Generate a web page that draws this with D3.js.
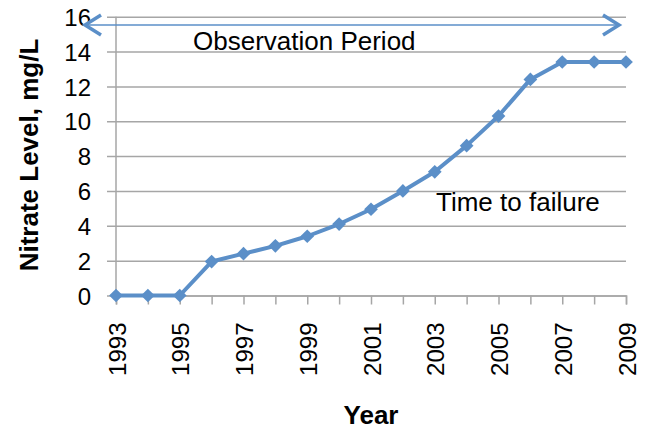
<!DOCTYPE html>
<html>
<head>
<meta charset="utf-8">
<script src="https://cdn.jsdelivr.net/npm/d3@7"></script>
<style>
  html, body { margin: 0; padding: 0; background: #fff; }
  svg text { font-family: "Liberation Sans", Arial, sans-serif; fill: #000; }
</style>
</head>
<body>
<svg id="chart" width="652" height="430"></svg>
<script>
// Nitrate readings by year
const years = [1993, 1994, 1995, 1996, 1997, 1998, 1999, 2000, 2001,
               2002, 2003, 2004, 2005, 2006, 2007, 2008, 2009];
const nitrate = [0, 0, 0, 1.95, 2.4, 2.85, 3.4, 4.1, 4.95,
                 6.0, 7.1, 8.6, 10.3, 12.4, 13.4, 13.4, 13.4];
const yTicks = [0, 2, 4, 6, 8, 10, 12, 14, 16];
const xLabelYears = [1993, 1995, 1997, 1999, 2001, 2003, 2005, 2007, 2009];
const annotations = ["Observation Period", "Time to failure"];

const svg = d3.select("#chart");
const blue = "#5B8FC8";
const grid = "#a6a6a6";
const font = "Liberation Sans, Arial, sans-serif";

const x = d3.scaleLinear().domain([1993, 2009]).range([116, 626]);
const y = d3.scaleLinear().domain([0, 16]).range([295.5, 16.7]);

// horizontal gridlines, extended left past the axis as tick marks
const gy = svg.append("g").attr("transform", "translate(626,0)");
gy.call(d3.axisLeft(y).tickValues(yTicks).tickSize(626 - 107).tickFormat(""));
gy.select(".domain").remove();
gy.selectAll(".tick line").attr("stroke", grid).attr("stroke-width", 1.5);

// y tick labels
const gyl = svg.append("g").attr("transform", "translate(107,0)");
gyl.call(d3.axisLeft(y).tickValues(yTicks).tickSize(0).tickPadding(16).tickFormat(d3.format("d")));
gyl.select(".domain").remove();
gyl.selectAll(".tick text").attr("font-size", 24).attr("font-family", font).attr("dy", "0.36em");

// vertical axis line
svg.append("line").attr("x1", x(1993)).attr("x2", x(1993))
  .attr("y1", y(16)).attr("y2", y(0)).attr("stroke", grid).attr("stroke-width", 1.5);

// x axis with a tick at every year
const gx = svg.append("g").attr("transform", `translate(0,${y(0)})`);
gx.call(d3.axisBottom(x).tickValues(years).tickSize(9).tickFormat(""));
gx.select(".domain").attr("stroke", grid).attr("stroke-width", 1.5);
gx.selectAll(".tick line").attr("stroke", grid).attr("stroke-width", 1.5);

// rotated year labels on odd years
svg.append("g").selectAll("text").data(xLabelYears).join("text")
  .attr("transform", d => `translate(${x(d) + 9.5},${y(0) + 27}) rotate(-90)`)
  .attr("text-anchor", "end")
  .attr("font-size", 24)
  .text(d => d);

// axis titles
svg.append("text").attr("x", 371).attr("y", 424).attr("text-anchor", "middle")
  .attr("font-size", 26).attr("font-weight", "bold").text("Year");
svg.append("text").attr("transform", `translate(37.5,155) rotate(-90)`)
  .attr("text-anchor", "middle").attr("font-size", 26).attr("font-weight", "bold")
  .text("Nitrate Level, mg/L");

// series line
const line = d3.line().x((d, i) => x(years[i])).y(d => y(d));
svg.append("path").datum(nitrate).attr("d", line)
  .attr("fill", "none").attr("stroke", blue).attr("stroke-width", 4)
  .attr("stroke-linejoin", "round");

// diamond markers
const diamond = d3.symbol().type(d3.symbolDiamond2).size(120);
svg.append("g").selectAll("path").data(nitrate).join("path")
  .attr("transform", (d, i) => `translate(${x(years[i])},${y(d)})`)
  .attr("d", diamond).attr("fill", blue);

// observation period double arrow
const ay = 25, ax0 = 84, ax1 = 620;
svg.append("line").attr("x1", ax0).attr("x2", ax1).attr("y1", ay).attr("y2", ay)
  .attr("stroke", blue).attr("stroke-width", 1.5);
svg.append("path")
  .attr("d", `M${ax0 + 17},${ay - 10} L${ax0 + 1},${ay} L${ax0 + 17},${ay + 10}`)
  .attr("fill", "none").attr("stroke", blue).attr("stroke-width", 3.5);
svg.append("path")
  .attr("d", `M${ax1 - 17},${ay - 10} L${ax1 - 1},${ay} L${ax1 - 17},${ay + 10}`)
  .attr("fill", "none").attr("stroke", blue).attr("stroke-width", 3.5);

// annotations
svg.append("text").attr("x", 193).attr("y", 49.5).attr("font-size", 26).text(annotations[0]);
svg.append("text").attr("x", 436).attr("y", 211).attr("font-size", 26).text(annotations[1]);
</script>
</body>
</html>
